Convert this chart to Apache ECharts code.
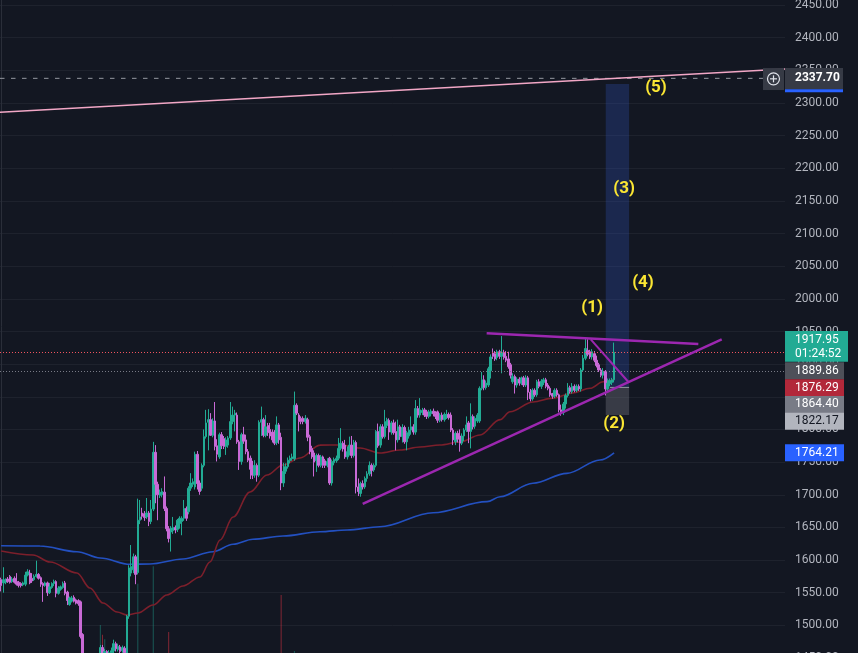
<!DOCTYPE html>
<html><head><meta charset="utf-8">
<script src="https://cdn.jsdelivr.net/npm/echarts@6/dist/echarts.min.js"></script>
<style>html,body{margin:0;padding:0;background:#131722;}#c{width:858px;height:653px;}</style>
</head><body><div id="c"></div>
<script>
// ---------- DATA ----------
// each candle: [open, close, low, high]
const candles = [
[1570,1561,1552,1573],[1565,1570,1550,1589],[1566,1569,1563,1572],[1571,1567,1565,1574],[1575,1566,1564,1577],
[1567,1571,1565,1574],[1572,1566,1564,1575],[1567,1563,1561,1580],[1566,1561,1558,1568],[1564,1561,1558,1566],
[1562,1565,1560,1567],[1563,1577,1560,1582],[1577,1582,1575,1586],[1580,1565,1563,1585],[1572,1568,1565,1580],
[1570,1575,1568,1578],[1575,1578,1573,1599],[1578,1572,1570,1580],[1573,1563,1559,1575],[1564,1561,1536,1566],
[1561,1565,1559,1567],[1565,1550,1545,1567],[1550,1559,1548,1565],[1558,1564,1556,1566],[1564,1567,1560,1570],
[1567,1549,1543,1569],[1549,1557,1547,1560],[1555,1559,1553,1561],[1558,1564,1556,1567],[1565,1549,1546,1568],
[1551,1538,1531,1553],[1532,1542,1530,1544],[1537,1542,1535,1545],[1543,1537,1535,1546],[1539,1534,1532,1541],
[1538,1533,1530,1540],[1536,1483,1480,1538],[1486,1445,1440,1488],
[1445,1432,1425,1450],[1432,1440,1422,1447],[1440,1428,1418,1445],[1428,1436,1420,1442],[1436,1444,1430,1452],
[1444,1438,1432,1450],[1438,1452,1434,1456],[1452,1466,1448,1470],
[1466,1455,1445,1470],[1455,1460,1448,1464],[1460,1452,1445,1462],[1452,1458,1447,1462],[1458,1461,1452,1466],
[1461,1472,1452,1478],[1472,1464,1460,1475],[1463,1468,1460,1472],[1467,1460,1456,1470],[1461,1466,1458,1469],
[1465,1458,1452,1468],[1455,1514,1450,1516],[1514,1588,1510,1592],[1580,1590,1575,1623],[1585,1605,1580,1610],
[1605,1578,1563,1608],[1581,1661,1578,1694],[1661,1666,1655,1692],[1672,1667,1662,1680],[1671,1665,1660,1675],
[1666,1672,1663,1695],[1672,1659,1652,1675],[1659,1678,1655,1692],[1678,1765,1675,1781],[1765,1716,1687,1776],
[1716,1700,1661,1720],[1699,1704,1695,1708],[1700,1705,1696,1710],[1704,1679,1675,1728],[1679,1648,1644,1682],
[1648,1633,1627,1652],[1643,1649,1613,1652],[1645,1650,1640,1666],[1650,1646,1641,1653],[1647,1661,1643,1663],
[1656,1664,1648,1667],[1659,1664,1638,1667],[1664,1679,1660,1692],[1679,1664,1660,1682],[1674,1710,1670,1713],
[1710,1718,1706,1733],[1716,1720,1712,1725],[1712,1762,1708,1766],[1762,1717,1708,1767],[1718,1705,1700,1722],
[1710,1745,1706,1748],[1745,1789,1742,1800],[1789,1810,1786,1830],[1811,1815,1768,1831],[1815,1791,1790,1825],
[1791,1813,1788,1817],[1813,1774,1768,1842],[1775,1762,1751,1785],[1758,1792,1755,1795],[1792,1775,1770,1796],
[1786,1774,1770,1790],[1774,1784,1761,1788],[1776,1787,1772,1790],[1787,1812,1784,1842],[1812,1822,1808,1835],
[1822,1825,1797,1830],[1822,1781,1778,1826],[1781,1751,1738,1784],[1751,1792,1746,1795],[1792,1782,1778,1804],
[1784,1766,1762,1792],[1766,1753,1750,1770],[1756,1739,1724,1760],[1740,1730,1724,1752],[1730,1745,1726,1753],
[1745,1730,1720,1748],[1730,1811,1727,1814],[1811,1815,1790,1835],[1815,1791,1788,1818],[1791,1804,1788,1822],
[1806,1795,1790,1810],[1800,1790,1786,1810],[1796,1784,1780,1800],[1786,1779,1776,1799],[1780,1807,1776,1820],
[1807,1784,1778,1810],[1788,1718,1707,1795],[1718,1736,1712,1749],[1736,1743,1732,1748],[1743,1753,1740,1757],
[1752,1756,1748,1760],[1755,1758,1752,1763],[1755,1837,1752,1858],[1837,1825,1822,1840],[1822,1812,1797,1825],
[1817,1812,1808,1820],[1817,1812,1808,1820],[1812,1817,1809,1822],[1815,1788,1782,1818],[1789,1766,1762,1792],
[1771,1758,1755,1775],[1764,1750,1728,1768],[1752,1760,1735,1763],[1760,1745,1742,1763],[1745,1758,1742,1761],
[1758,1745,1741,1760],[1752,1745,1741,1755],[1745,1751,1742,1756],[1756,1718,1715,1758],[1718,1751,1714,1754],
[1749,1754,1745,1757],[1752,1756,1749,1760],[1756,1771,1753,1787],[1771,1779,1768,1802],[1779,1770,1766,1782],
[1776,1758,1755,1784],[1758,1766,1754,1774],[1764,1776,1760,1789],[1776,1760,1756,1790],[1760,1780,1757,1784],
[1780,1712,1702,1783],[1712,1705,1698,1725],[1702,1717,1697,1720],[1717,1712,1708,1722],[1712,1725,1709,1728],
[1725,1732,1720,1736],[1732,1745,1729,1751],[1745,1737,1728,1748],[1738,1745,1735,1748],[1745,1797,1742,1799],
[1797,1775,1772,1809],[1776,1804,1772,1808],[1804,1789,1786,1808],[1789,1812,1786,1830],[1806,1815,1802,1818],
[1814,1796,1784,1817],[1796,1810,1792,1813],[1810,1795,1792,1815],[1797,1784,1768,1812],[1784,1804,1780,1815],
[1804,1789,1784,1807],[1789,1803,1780,1808],[1803,1781,1778,1806],[1781,1795,1768,1798],[1790,1799,1786,1804],
[1799,1804,1792,1820],[1804,1796,1792,1808],[1796,1832,1792,1845],[1832,1822,1818,1836],[1822,1830,1818,1848],
[1826,1829,1822,1833],[1830,1822,1819,1833],[1827,1820,1816,1830],[1820,1827,1817,1830],[1824,1828,1820,1831],
[1828,1824,1820,1832],[1825,1820,1816,1828],[1827,1814,1810,1829],[1814,1822,1811,1825],[1822,1815,1812,1826],
[1815,1823,1812,1826],[1819,1823,1816,1830],[1823,1818,1815,1826],[1822,1799,1796,1826],[1799,1784,1776,1802],
[1781,1794,1776,1797],[1794,1785,1780,1798],[1790,1779,1766,1800],[1779,1790,1776,1794],[1790,1799,1782,1802],
[1799,1807,1796,1820],[1810,1797,1779,1813],[1797,1820,1771,1840],[1820,1804,1800,1823],[1805,1817,1801,1820],
[1813,1822,1810,1825],[1813,1863,1810,1866],[1863,1876,1860,1888],[1876,1864,1860,1883],[1864,1871,1861,1875],
[1868,1893,1865,1896],[1890,1911,1878,1915],[1917,1912,1908,1924],[1916,1908,1905,1920],[1910,1919,1906,1922],
[1919,1912,1908,1922],[1912,1918,1886,1943],[1918,1910,1907,1922],[1912,1906,1903,1920],[1908,1896,1893,1919],
[1899,1883,1878,1902],[1873,1881,1870,1886],[1881,1868,1855,1884],[1868,1877,1864,1880],[1877,1871,1867,1880],
[1871,1879,1868,1881],[1879,1868,1865,1882],[1868,1879,1865,1883],[1879,1857,1845,1882],[1857,1847,1843,1862],
[1847,1860,1844,1863],[1860,1853,1850,1863],[1853,1873,1850,1876],[1873,1866,1863,1877],[1866,1874,1862,1877],
[1872,1876,1868,1879],[1876,1866,1863,1879],[1868,1863,1860,1871],[1863,1853,1850,1866],[1855,1851,1847,1856],
[1851,1860,1848,1863],[1860,1853,1850,1863],[1853,1830,1826,1855],[1830,1826,1821,1838],[1826,1839,1822,1842],
[1839,1852,1832,1855],[1852,1864,1849,1871],[1864,1858,1855,1867],[1858,1866,1855,1871],[1866,1860,1857,1869],
[1860,1866,1857,1869],[1866,1862,1859,1869],[1862,1891,1858,1894],[1891,1909,1888,1914],[1909,1924,1906,1940],
[1921,1915,1912,1938],[1919,1911,1908,1922],[1911,1919,1907,1923],[1916,1906,1903,1920],[1906,1898,1895,1913],
[1899,1891,1888,1902],[1891,1883,1880,1894],[1883,1889,1878,1894],[1889,1862,1852,1891],[1862,1871,1858,1878],
[1870,1875,1866,1878],[1872,1876,1868,1879],[1876,1917.95,1872,1933]
];
// volume spikes: [candle index, volume]
const volumeSpikes = [[45,4.3],[46,2.8],[47,2.1],[62,10.6],[69,13.3],[76,3.2],[127,8.9],[133,0.3]];
// moving averages sampled: [candle index, value]
const maRed = [[0,1613.9],[14.5,1607.7],[22.2,1597],[34.4,1580.2],[40.3,1557.2],[46.2,1534.2],[52.6,1520.4],[57.1,1515.8],
 [62.1,1518.9],[68.9,1531.2],[75.2,1546.5],[82.5,1560.3],[90.2,1574.1],[94.7,1597],[99.3,1630.7],[105.2,1665.9],
 [112.9,1704.2],[120.6,1730.2],[127.8,1745.6],[135.6,1756.3],[144.6,1776],[153.7,1776.2],[162.8,1771.6],[171.8,1763.9],
 [180.9,1768.5],[190,1773.1],[199,1776.2],[208.1,1780.8],[217.2,1791.5],[226.3,1815],[230.8,1827],[241.2,1842],
 [250.3,1848],[259.4,1856],[267.1,1863],[273,1873],[278,1876.29]];
const maBlue = [[0,1621.9],[17.6,1621.5],[34.4,1612.8],[44.9,1603.1],[58.5,1593.5],[67.5,1594],[82.5,1601.6],[96.1,1612.8],
 [105.2,1624.1],[114.2,1631.8],[127.8,1636.8],[144.6,1643.4],[156.9,1646],[171.8,1651.1],[195.9,1672.5],[220.4,1689.4],
 [226.3,1697],[241.2,1717.5],[256.6,1732.8],[271.6,1753.2],[278,1764.21]];
// drawings: [x(index), price]
const supportLine = [[164,1686],[326.8,1938]];
const resistanceLine = [[220.2,1947.2],[316.2,1930.9]];
const pullbackLine = [[267.4,1938],[284.4,1873]];
const longTrendLine = [[-0.5,2285.7],[355.5,2352]];
const crosshairLine = [[-0.5,2337.70],[345.5,2337.70]];
const targetBox = [[274.2,1864.40],[284.8,2329]];
const stopBox = [[274.2,1822.17],[284.8,1864.40]];
const entryLine = [[276.1,1864.40],[284.8,1864.40]];
const waveLabels = [[268,1986,'(1)'],[278,1808.3,'(2)'],[282.5,2168.2,'(3)'],[291.1,2024.3,'(4)'],[297,2322.9,'(5)']];
const lastPrice = 1917.95, countdown = '01:24:52';
const prevClose = 1889.86, maRedLast = 1876.29, entryPrice = 1864.40, stopPrice = 1822.17, maBlueLast = 1764.21;
const crosshairPrice = 2337.70;
const yMin = 1450, yMax = 2500, yStep = 50;
const xMin = -0.5, xMax = 355.5;

// ---------- CHART ----------
const FONT = 'Roboto, "Noto Sans", sans-serif';
const UP = '#22ab94', DOWN = '#c96ad6';
const chart = echarts.init(document.getElementById('c'), null, {renderer:'canvas'});
const cdata = candles.map((c,i)=>[i,c[0],c[1],c[2],c[3]]);
const vdata = volumeSpikes.map(v=>{
  const c = candles[v[0]];
  return {value:[v[0],v[1]], itemStyle:{color: c[1]>=c[0] ? 'rgba(34,171,148,0.45)' : 'rgba(242,54,69,0.5)'}};
});
function seg(data, color, width, type, z){
  return {type:'line', data, symbol:'none', silent:true, animation:false, z:z||5,
    lineStyle:{color, width, type:type||'solid'}, xAxisIndex:0, yAxisIndex:0};
}
const option = {
  backgroundColor:'#131722',
  animation:false,
  grid:[
    {left:0, right:73, top:-27.65, bottom:-5, containLabel:false, outerBoundsMode:'none'},
    {left:0, right:73, top:0, bottom:0, outerBoundsMode:'none'}
  ],
  xAxis:[
    {type:'value', min:xMin, max:xMax, show:false, gridIndex:0},
    {type:'value', min:xMin, max:xMax, show:false, gridIndex:1}
  ],
  yAxis:[
    {type:'value', gridIndex:0, position:'right', min:yMin, max:yMax, interval:yStep,
     axisLine:{show:true, lineStyle:{color:'#2a2e39'}}, axisTick:{show:false},
     axisLabel:{color:'#b2b5be', fontSize:12, fontFamily:FONT, margin:10, formatter:v=>v.toFixed(2)},
     splitLine:{lineStyle:{color:'#1e222d', width:1}}},
    {type:'value', gridIndex:1, min:0, max:100, show:false, splitLine:{show:false}}
  ],
  series:[
    {type:'bar', xAxisIndex:1, yAxisIndex:1, data:vdata, barWidth:1, silent:true, z:1},
    {type:'line', data:maBlue, smooth:0.35, smoothMonotone:'x', symbol:'none', lineStyle:{color:'#2350c0', width:1.6}, z:2},
    {type:'line', data:maRed, smooth:0.35, smoothMonotone:'x', symbol:'none', lineStyle:{color:'#7c1f2b', width:1.6}, z:2},
    {type:'candlestick', data:cdata, encode:{x:0, y:[1,2,3,4]}, barWidth:2, z:3,
     itemStyle:{color:UP, color0:DOWN, borderColor:UP, borderColor0:DOWN, borderWidth:1},
     markLine:{silent:true, symbol:'none', label:{show:false},
       data:[
        {yAxis:lastPrice, lineStyle:{color:'#f0545f', type:[1,2], width:1}},
        {yAxis:prevClose, lineStyle:{color:'#787b86', type:[1,2], width:1}}
       ]}},
    {type:'line', data:[], symbol:'none', silent:true, z:1,
     markArea:{silent:true, data:[
       [{coord:targetBox[0], itemStyle:{color:'rgba(50,90,200,0.27)'}},{coord:targetBox[1]}],
       [{coord:stopBox[0], itemStyle:{color:'rgba(120,123,134,0.37)'}},{coord:stopBox[1]}]
     ]}},
    seg(entryLine, '#9598a1', 1),
    seg(crosshairLine, '#9598a1', 1, [4.5,6.5]),
    seg(longTrendLine, '#f2a7c6', 1.6),
    seg(supportLine, '#9c27b0', 2.5, 'solid', 6),
    seg(resistanceLine, '#9c27b0', 2.5, 'solid', 6),
    seg(pullbackLine, '#9c27b0', 2, 'solid', 6),
    {type:'scatter', data:waveLabels, symbolSize:1, itemStyle:{color:'rgba(0,0,0,0)', opacity:1}, z:10, silent:true,
     label:{show:true, position:'inside', formatter:p=>p.data[2], color:'#fbe633', opacity:1, textBorderWidth:0,
            fontSize:17, fontWeight:'bold', fontFamily:FONT}}
  ]
};
chart.setOption(option);

// price tags on the scale
const ax = chart.convertToPixel({xAxisIndex:0}, xMax);
const py = v => chart.convertToPixel({yAxisIndex:0}, v);
const g = [];
function tag(v, bg, fg, dy, w){
  const y = py(v) + (dy||0);
  g.push({type:'rect', z:100, shape:{x:ax, y:y-8.5, width:w||59, height:17}, style:{fill:bg}});
  g.push({type:'text', z:101, style:{x:ax+10, y:y, text:v.toFixed(2), fill:fg, font:'12px '+FONT, textVerticalAlign:'middle'}});
}
(function(){
  const y = py(lastPrice);
  g.push({type:'rect', z:100, shape:{x:ax, y:y-21.4, width:63, height:30.7}, style:{fill:'#22ab94'}});
  g.push({type:'text', z:101, style:{x:ax+10, y:y-12.7, text:lastPrice.toFixed(2), fill:'#ffffff', font:'12px '+FONT, textVerticalAlign:'middle'}});
  g.push({type:'text', z:101, style:{x:ax+10, y:y+1.3, text:countdown, fill:'#ffffff', font:'12px '+FONT, textVerticalAlign:'middle'}});
})();
tag(prevClose, '#4e5059', '#ffffff', 0);
tag(maRedLast, '#b2283a', '#ffffff', 8);
tag(entryPrice, '#787b86', '#ffffff', 17);
tag(stopPrice, '#b2b5be', '#131722', 6.3);
tag(maBlueLast, '#2962ff', '#ffffff', 0);
(function(){
  const y = py(crosshairPrice);
  g.push({type:'rect', z:100, shape:{x:ax, y:y-10.3, width:58, height:21.3}, style:{fill:'#363a45'}});
  g.push({type:'rect', z:100, shape:{x:ax, y:y+11, width:58, height:3}, style:{fill:'#2962ff'}});
  g.push({type:'text', z:101, style:{x:ax+10, y:y, text:crosshairPrice.toFixed(2), fill:'#ffffff', font:'bold 12px '+FONT, textVerticalAlign:'middle'}});
  g.push({type:'rect', z:100, shape:{x:ax-22, y:y-10.3, width:21, height:22}, style:{fill:'#363a45'}});
  g.push({type:'circle', z:101, shape:{cx:ax-11.5, cy:y+0.5, r:6}, style:{fill:'none', stroke:'#e0e3eb', lineWidth:1.2}});
  g.push({type:'line', z:101, shape:{x1:ax-15, y1:y+0.5, x2:ax-8, y2:y+0.5}, style:{stroke:'#e0e3eb', lineWidth:1.2}});
  g.push({type:'line', z:101, shape:{x1:ax-11.5, y1:y-3, x2:ax-11.5, y2:y+4}, style:{stroke:'#e0e3eb', lineWidth:1.2}});
})();
chart.setOption({graphic:g});
</script></body></html>
